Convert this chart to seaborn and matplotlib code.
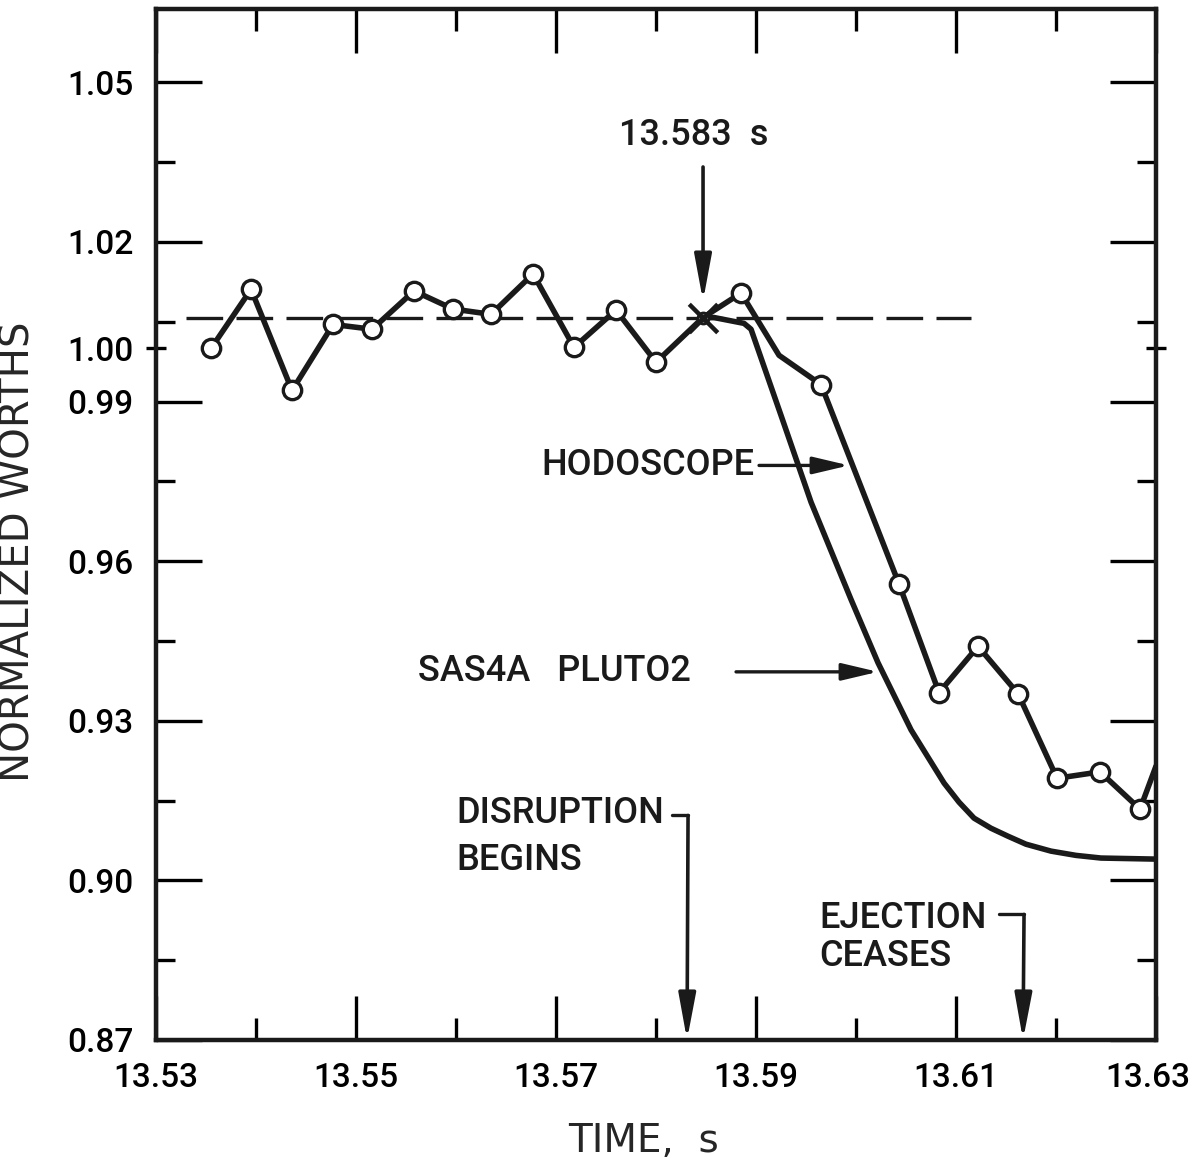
import matplotlib
matplotlib.use("Agg")
import matplotlib.pyplot as plt
import matplotlib.transforms as mtransforms
import numpy as np
import pandas as pd
import seaborn as sns

# Hodoscope worth trace
hodo_time = [13.5355, 13.5395, 13.5436, 13.5477, 13.5516, 13.5558, 13.5597, 13.5635,
             13.5677, 13.5718, 13.5760, 13.5800, 13.5847, 13.5885, 13.5923, 13.5965,
             13.6043, 13.6083, 13.6122, 13.6162, 13.6201, 13.6244, 13.6284, 13.6300]
hodo_worth = [1.0000, 1.0111, 0.9921, 1.0045, 1.0036, 1.0108, 1.0074, 1.0064,
              1.0140, 1.0002, 1.0072, 0.9974, 1.0058, 1.0104, 0.9987, 0.9932,
              0.9557, 0.9353, 0.9440, 0.9351, 0.9192, 0.9204, 0.9134, 0.9215]
# samples drawn with an open circle (13.583 s sample gets a cross instead)
hodo_circle = [True] * 12 + [False, True, False] + [True] * 8 + [False]
cross_time = [13.5847]
cross_worth = [1.0058]

# SAS4A / PLUTO2 calculation
sas_time = [13.5847, 13.5858, 13.5888, 13.5895, 13.5925, 13.5955, 13.5995, 13.6022,
            13.6055, 13.6088, 13.6103, 13.6118, 13.6135, 13.6152, 13.6170, 13.6195,
            13.6220, 13.6245, 13.6300]
sas_worth = [1.0058, 1.0058, 1.0047, 1.0036, 0.9874, 0.9711, 0.9528, 0.9409,
             0.9283, 0.9183, 0.9147, 0.9117, 0.9098, 0.9083, 0.9068, 0.9055,
             0.9047, 0.9042, 0.9040]

# dashed pre-transient level
ref_time = [13.5330, 13.6115]
ref_worth = [1.0057, 1.0057]

x_major = [13.53, 13.55, 13.57, 13.59, 13.61, 13.63]
x_labels = ["13.53", "13.55", "13.57", "13.59", "13.61", "13.63"]
x_minor = [13.54, 13.56, 13.58, 13.60, 13.62]
y_major = [0.87, 0.90, 0.93, 0.96, 0.99, 1.00, 1.02, 1.05]
y_labels = ["0.87", "0.90", "0.93", "0.96", "0.99", "1.00", "1.02", "1.05"]
y_minor = [0.885, 0.915, 0.945, 0.975, 1.005, 1.035]

sns.set_theme(style="ticks")
plt.rcParams['font.family'] = ['Roboto', 'DejaVu Sans']
plt.rcParams['font.weight'] = 'medium'
plt.rcParams['axes.edgecolor'] = 'black'
plt.rcParams['xtick.color'] = 'black'
plt.rcParams['ytick.color'] = 'black'

hodo = pd.DataFrame({'t': hodo_time, 'w': hodo_worth, 'circle': hodo_circle})
sas = pd.DataFrame({'t': sas_time, 'w': sas_worth})

fig = plt.figure(figsize=(11.94, 11.65), dpi=100)
ax = fig.add_axes([0.1307, 0.1073, 0.8375, 0.885])

# dashed reference level
ax.plot(ref_time, ref_worth, color='k', lw=2.4, dashes=(11, 4), zorder=2)

sns.lineplot(data=sas, x='t', y='w', ax=ax, color='k', linewidth=4,
             sort=False, estimator=None, zorder=3)
sns.lineplot(data=hodo, x='t', y='w', ax=ax, color='k', linewidth=4,
             sort=False, estimator=None, zorder=4)
sns.scatterplot(data=hodo[hodo['circle']], x='t', y='w', ax=ax, s=175,
                facecolor='white', edgecolor='k', linewidth=2.4, zorder=5)
ax.scatter(cross_time, cross_worth, s=60, facecolor='white', edgecolor='k',
           linewidth=2.2, zorder=6)
ax.scatter(cross_time, cross_worth, s=420, marker='x', color='k',
           linewidth=3.2, zorder=6)

ax.set_xlim(13.53, 13.63)
ax.set_ylim(0.87, 1.0638)
ax.set_xticks(x_major, x_labels)
ax.set_xticks(x_minor, minor=True)
ax.set_yticks(y_major, y_labels)
ax.set_yticks(y_minor, minor=True)

for sp in ax.spines.values():
    sp.set_linewidth(3.2)
    sp.set_color('k')

ax.tick_params(axis='both', which='both', direction='in', top=True, right=True,
               width=2.4, labelsize=24)
ax.tick_params(axis='x', which='major', length=32, pad=16)
ax.tick_params(axis='x', which='minor', length=16)
ax.tick_params(axis='y', which='major', length=33, pad=16)
ax.tick_params(axis='y', which='minor', length=14)

ax.set_xlabel("TIME,  s", fontsize=28, family='DejaVu Sans')
ax.set_ylabel("NORMALIZED WORTHS", fontsize=29, family='DejaVu Sans')
ax.xaxis.set_label_coords(0.487, -0.0795)
ax.yaxis.set_label_coords(-0.118, 0.474)

# last x label sits a little left of its tick, as in the original
last = ax.get_xticklabels()[-1]
last.set_transform(last.get_transform() +
                   mtransforms.ScaledTranslation(-8 / 100, 0, fig.dpi_scale_trans))

arrow = dict(arrowstyle='-|>,head_length=0.7,head_width=0.13', lw=2.6,
             color='k', mutation_scale=40, shrinkA=0, shrinkB=0)
small_arrow = dict(arrowstyle='-|>,head_length=0.55,head_width=0.13', lw=2.4,
                   color='k', mutation_scale=40, shrinkA=0, shrinkB=0)
txt = dict(fontsize=26, color='k', va='center')

# 13.583 s marker
ax.text(13.5838, 1.0400, "13.583  s", ha='center', **txt)
ax.annotate('', xy=(13.5847, 1.0089), xytext=(13.5847, 1.0341), arrowprops=arrow)

# curve labels
ax.text(13.5685, 0.9780, "HODOSCOPE", ha='left', **txt)
ax.annotate('', xy=(13.5993, 0.9780), xytext=(13.5903, 0.9780), arrowprops=small_arrow)
ax.text(13.5562, 0.9392, "SAS4A   PLUTO2", ha='left', **txt)
ax.annotate('', xy=(13.6022, 0.9392), xytext=(13.5880, 0.9392), arrowprops=small_arrow)

# event markers
ax.text(13.5600, 0.9126, "DISRUPTION", ha='left', **txt)
ax.text(13.5600, 0.9038, "BEGINS", ha='left', **txt)
ax.plot([13.5816, 13.5832], [0.9122, 0.9122], color='k', lw=2.4)
ax.annotate('', xy=(13.5831, 0.8700), xytext=(13.5832, 0.9122), arrowprops=arrow)

ax.text(13.5963, 0.8928, "EJECTION", ha='left', **txt)
ax.text(13.5963, 0.8857, "CEASES", ha='left', **txt)
ax.plot([13.6143, 13.6168], [0.8936, 0.8936], color='k', lw=2.4)
ax.annotate('', xy=(13.6167, 0.8700), xytext=(13.6168, 0.8936), arrowprops=arrow)

# the 1.00 tick crosses the frame instead of pointing in
for tk, loc in zip(ax.yaxis.get_major_ticks(), ax.get_yticks()):
    if abs(loc - 1.0) < 1e-6:
        for ln in (tk.tick1line, tk.tick2line):
            ln.set_marker('_')
            ln.set_markersize(15)

fig.savefig("out.png", dpi=100)
